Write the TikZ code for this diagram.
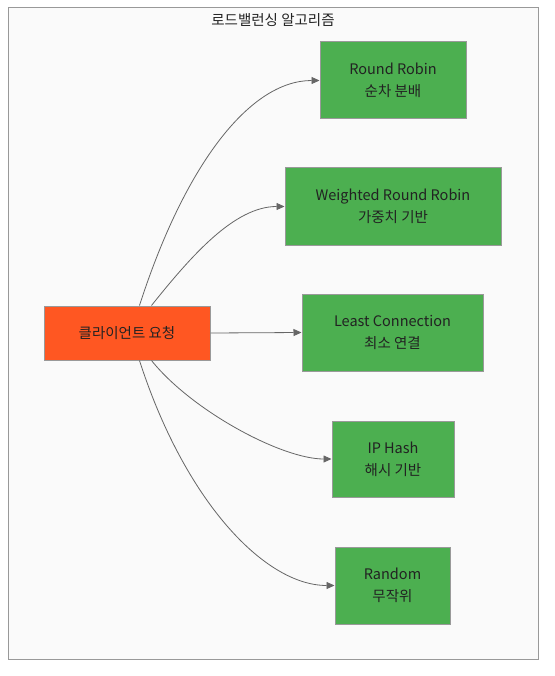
\documentclass[tikz,border=0pt]{standalone}
\usepackage{fontspec}
\setmainfont{Noto Sans CJK KR}
\usetikzlibrary{arrows.meta}
\definecolor{frameC}{HTML}{999999}
\definecolor{bgC}{HTML}{FAFAFA}
\definecolor{greenC}{HTML}{4CAF50}
\definecolor{orangeC}{HTML}{FF5722}
\definecolor{lineC}{HTML}{666666}
\definecolor{txtC}{HTML}{222222}
\begin{document}
\begin{tikzpicture}[x=1pt,y=-1pt,
  box/.style={draw=frameC,line width=1pt,inner sep=0pt,align=center,font=\fontsize{14.5}{22}\selectfont,text=txtC},
  algo/.style={box,fill=greenC},
  conn/.style={draw=lineC,line width=0.8pt,-{Triangle[length=8pt,width=7pt]}}]
\useasboundingbox (0,0) rectangle (554,676);
\fill[white] (0,0) rectangle (554,676);
\node[draw=frameC,fill=bgC,line width=1pt,minimum width=530pt,minimum height=651pt,inner sep=0pt] (frame) at (273,333.5) {};
\node[font=\fontsize{14.5}{16}\selectfont,text=txtC] (title) at (273,20) {로드밸런싱 알고리즘};
\node[box,fill=orangeC,minimum width=166pt,minimum height=54pt] (client) at (127,333) {클라이언트 요청};
\node[algo,minimum width=146pt,minimum height=77pt] (rr) at (393,80.5) {Round Robin\\순차 분배};
\node[algo,minimum width=216pt,minimum height=77pt] (wrr) at (393,206.5) {Weighted Round Robin\\가중치 기반};
\node[algo,minimum width=181pt,minimum height=77pt] (lc) at (392.5,332.5) {Least Connection\\최소 연결};
\node[algo,minimum width=122pt,minimum height=76pt] (ip) at (393,459) {IP Hash\\해시 기반};
\node[algo,minimum width=115pt,minimum height=77pt] (rnd) at (392.5,585.5) {Random\\무작위};
\draw[conn] ([xshift=96pt]client.north west) .. controls +(45,-140) and +(-70,0) .. (rr.west);
\draw[conn] ([xshift=108pt]client.north west) .. controls +(40,-50) and +(-50,0) .. (wrr.west);
\draw[conn] (client.east) -- (lc.west);
\draw[conn] ([xshift=108pt]client.south west) .. controls +(40,50) and +(-50,0) .. (ip.west);
\draw[conn] ([xshift=96pt]client.south west) .. controls +(45,140) and +(-70,0) .. (rnd.west);
\end{tikzpicture}
\end{document}
